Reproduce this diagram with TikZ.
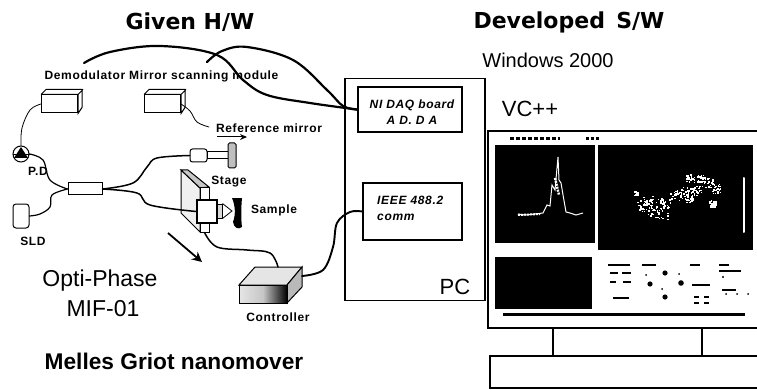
\documentclass[tikz,border=0pt]{standalone}
\usepackage{fontspec}
\setmainfont{Liberation Sans}
\newfontfamily\headfont{DejaVu Sans}
\newfontfamily\labelfont[LetterSpace=5.5]{Liberation Sans}
\usetikzlibrary{arrows.meta,calc,shapes.geometric}
\tikzset{
  framebox/.style={draw=black,line width=1.8pt,fill=white,minimum width=#1,inner sep=0pt},
  modulebox/.style={draw=black,line width=1pt,fill=white,minimum width=36pt,minimum height=18pt,inner sep=0pt},
  screenbox/.style={fill=black,inner sep=0pt},
  smalllabel/.style={font=\fontsize{12}{13}\selectfont\labelfont\bfseries,inner sep=0pt},
  headlabel/.style={font=\fontsize{22}{24}\selectfont\headfont\bfseries,inner sep=0pt},
  biglabel/.style={font=\fontsize{23}{25}\selectfont,inner sep=0pt},
  cardlabel/.style={font=\fontsize{12}{13}\selectfont\labelfont\bfseries\itshape,inner sep=0pt},
  fibre/.style={line width=1.9pt,line cap=round},
  thinfibre/.style={line width=0.8pt,line cap=round},
  dirarrow/.style={-{Stealth[length=10pt,width=10pt]},line width=1.8pt},
}
\begin{document}
\begin{tikzpicture}[x=1pt,y=-1pt]
  \clip (0,0) rectangle (757,390);
  \fill[white] (0,0) rectangle (757,390);
  % titles
  \node[headlabel] (given) at (190,22) {Given H/W};
  \node[headlabel] (developed) at (569,22) {Developed\, S/W};
  \node[font=\fontsize{20}{22}\selectfont,inner sep=0pt] (windows) at (548,60) {Windows 2000};
  \node[font=\fontsize{22}{24}\selectfont,inner sep=0pt] (vcpp) at (530,109) {VC++};
  % PC and cards
  \node[framebox=140pt,minimum height=222pt] (pc) at (415,189.5) {};
  \node[framebox=104pt,minimum height=45pt] (daq) at (410,109.5) {};
  \node[cardlabel,align=center] (daqtext) at (412,112) {NI DAQ board\\[3pt]A D. D A};
  \node[framebox=99pt,minimum height=57pt] (ieee) at (412.5,211.5) {};
  \node[cardlabel,align=left,anchor=west] (ieeetext) at (377,208.5) {IEEE 488.2\\[3pt]comm};
  \node[font=\fontsize{22}{24}\selectfont,inner sep=0pt] (pclabel) at (455,287) {PC};
  % monitor
  \node[framebox=280pt,minimum height=197pt] (monitor) at (628,229.5) {};
  \node[framebox=149pt,minimum height=28pt] (stand) at (627.5,342) {};
  \node[framebox=280pt,minimum height=32pt] (base) at (630,372) {};
  \node[screenbox,minimum width=100pt,minimum height=98pt] (plotleft) at (545,194) {};
  \node[screenbox,minimum width=155pt,minimum height=105pt] (plotright) at (675.5,197.5) {};
  \node[screenbox,minimum width=97pt,minimum height=52pt] (plotlow) at (543.5,283) {};
  \node[screenbox,minimum width=242pt,minimum height=3pt] (scrollbar) at (624,314) {};
  \draw[white,line width=1pt] (518,214) -- (525,215) -- (535,214) -- (543,213) -- (547,205) -- (550,206)
    -- (552,185) -- (555,190) -- (558,157) -- (559,180) -- (561,183) -- (563,195) -- (566,212) -- (570,213) -- (576,215) -- (583,213);
  \draw[white,line width=2.4pt,dash pattern=on 2pt off 1pt] (555,178) -- (559,195);
  \draw[white,line width=2pt,dash pattern=on 2pt off 1pt] (518,215) -- (540,214);
  \draw[white,line width=2pt,line cap=round] (744,178) -- (744,232);
  \pgfmathsetseed{41}
  \foreach \ptx/\pty/\ptr in {643/205/6,655/207/9,662/212/7,675/195/5,685/192/6,697/190/5,690/178/4,
      700/178/4,708/182/5,715/188/5,712/204/3,713/203/3,636/193/2,688/197/5,648/200/5,665/203/5}
    \foreach \spk in {1,...,22}
      \fill[white] (\ptx+\ptr*rand,\pty+\ptr*rand) rectangle ++(1.5,1.5);
  % panel marks
  \foreach \mkx/\mky/\mkw in {608/264/22,642/264/14,690/264/10,719/264/10,719/270/22,
      610/272/8,622/272/9,610/281/6,623/281/8,692/284/18,722/289/14,613/297/16,694/296/5,704/296/5,694/302/5,704/302/5}
    \fill[black] (\mkx,\mky) rectangle ++(\mkw,1.6);
  \foreach \dotx/\doty/\dotr in {665/273/2.6,650/284/2.6,681/283/2.8,665/297/2.6,723/277/1.2,646/275/1,
      679/274/1,662/289/1,726/294/1,737/294/1,748/294/1}
    \fill[black] (\dotx,\doty) circle (\dotr pt);
  \draw[black,line width=3pt,dash pattern=on 4pt off 2pt] (510,139) -- (560,139);
  \draw[black,line width=3pt,dash pattern=on 3pt off 2pt] (586,139) -- (600,139);
  % modules
  \node[modulebox] (demod) at (59.5,104) {};
  \node[modulebox] (mirrormod) at (162.5,104) {};
  \foreach \boxname in {demod,mirrormod}
    \draw[line width=1pt,fill=white] (\boxname.north west) -- ++(5,-5) -- ++(36,0) -- ++(0,18) -- (\boxname.south east)
      -- (\boxname.north east) -- ++(5,-5) (\boxname.north east) -- (\boxname.north west);
  \node[smalllabel] (demodlabel) at (161.5,76) {Demodulator Mirror scanning module};
  \node[smalllabel] (reflabel) at (269,128) {Reference mirror};
  \node[smalllabel] (pdlabel) at (38,171) {P.D};
  \node[smalllabel] (sldlabel) at (33,241) {SLD};
  \node[smalllabel] (stagelabel) at (229,182) {Stage};
  \node[smalllabel] (samplelabel) at (274,210) {Sample};
  \node[smalllabel] (ctrllabel) at (278,317) {Controller};
  % detector, source, coupler
  \node[circle,draw,line width=1pt,minimum size=16pt,inner sep=0pt] (pd) at (21,154) {};
  \fill (pd.center) ++(-7,4) -- ++(14,0) -- (21,147) -- cycle;
  \draw[line width=0.8pt] (pd.west) -- (pd.east);
  \node[draw,line width=1pt,rounded corners=3pt,minimum width=16pt,minimum height=24pt,inner sep=0pt] (sld) at (21,216) {};
  \node[draw,line width=1pt,fill=white,minimum width=34pt,minimum height=12pt,inner sep=0pt] (coupler) at (85,189) {};
  % reference arm
  \node[draw,line width=1pt,rounded corners=2.5pt,minimum width=17pt,minimum height=13pt,inner sep=0pt] (collimator) at (198.5,155.5) {};
  \node[draw,line width=1pt,minimum width=21pt,minimum height=7pt,inner sep=0pt] (collbar) at (217.5,155.5) {};
  \node[draw,line width=1pt,rounded corners=1.5pt,fill=gray!50,minimum width=8pt,minimum height=25pt,inner sep=0pt] (refmirror) at (232,155.5) {};
  \draw[line width=1pt,-{Stealth[length=7pt,width=6pt]}] (217,137) -- (247,137);
  % stage
  \draw[line width=1pt,fill=gray!12] (181,170) -- (200,188) -- (200,232) -- (181,213) -- cycle;
  \draw[line width=1pt,fill=gray!45] (181,170) -- (188,170) -- (209,187) -- (200,188) -- cycle;
  \node[draw,line width=1pt,fill=white,minimum width=9pt,minimum height=44pt,inner sep=0pt] (moverpost) at (204.5,210) {};
  \node[draw,line width=1.8pt,fill=white,minimum width=20pt,minimum height=23pt,inner sep=0pt] (mover) at (207,211.5) {};
  \node[draw,line width=1pt,fill=gray!30,minimum width=5pt,minimum height=14pt,inner sep=0pt] (lens) at (219.5,211) {};
  \draw[line width=0.8pt] (lens.north east) -- (232,211) -- (lens.south east);
  \fill[black] (232,198) -- (242,198) .. controls (241,208) and (241,220) .. (242,227) .. controls (238,230) and (234,228) .. (233,222) .. controls (236,214) and (235,205) .. cycle;
  \draw[dirarrow] (168,233) -- (202,262);
  % controller
  \draw[line width=1pt,fill=gray!20] (255,267) -- (302,267) -- (287,285) -- (239,285) -- cycle;
  \draw[line width=1pt,fill=gray!55] (287,285) -- (302,267) -- (302,287) -- (287,303) -- cycle;
  \node[draw,line width=1pt,left color=gray!20,right color=black,middle color=gray!45,minimum width=48pt,minimum height=18pt,inner sep=0pt] (ctrl) at (263,294) {};
  \coordinate (ctrltop) at (278,267);
  \coordinate (ctrlside) at (302,276);
  % connectors
  \coordinate (demodend) at (84,63);
  \coordinate (mirrorend) at (207,62);
  \draw[fibre,line width=2.2pt] plot[smooth,tension=0.6] coordinates {(demodend) (110,52) (160,46) (217,55) (243,80) (267,95) (310,103) (daq.west)};
  \draw[fibre,line width=2.2pt] plot[smooth,tension=0.6] coordinates {(mirrorend) (222,51) (247,47) (293,60) (327,90) (343,106) (daq.west)};
  \draw[thinfibre] plot[smooth,tension=0.6] coordinates {(demod.west) (30,110) (22,128) (pd.north)};
  \draw[thinfibre] plot[smooth,tension=0.6] coordinates {(mirrormod.east) (190,111) (197,122) (209,127)};
  \draw[fibre,line width=1.2pt] plot[smooth,tension=0.6] coordinates {(pd.east) (43,160) (50,180) (coupler.west)};
  \draw[fibre,line width=1.2pt] plot[smooth,tension=0.6] coordinates {(sld.east) (40,214) (50,207) (52,195) (coupler.west)};
  \draw[fibre,line width=1.5pt] plot[smooth,tension=0.6] coordinates {(coupler.east) (133,183) (147,167) (157,158) (collimator.west)};
  \draw[fibre,line width=1.5pt] plot[smooth,tension=0.6] coordinates {(coupler.east) (137,193) (150,205) (mover.west)};
  \draw[fibre,line width=1.5pt] plot[smooth,tension=0.6] coordinates {(moverpost.south) (217,247) (247,250) (270,253) (ctrltop)};
  \draw[fibre] plot[smooth,tension=0.6] coordinates {(ctrlside) (323,270) (333,247) (337,223) (350,212) (ieee.west)};
  % lower texts
  \node[biglabel] (optilabel) at (100,281) {Opti-Phase};
  \node[biglabel] (miflabel) at (103,309) {MIF-01};
  \node[font=\fontsize{22.7}{25}\selectfont\bfseries,inner sep=0pt] (melleslabel) at (174,361) {Melles Griot nanomover};
\end{tikzpicture}
\end{document}
